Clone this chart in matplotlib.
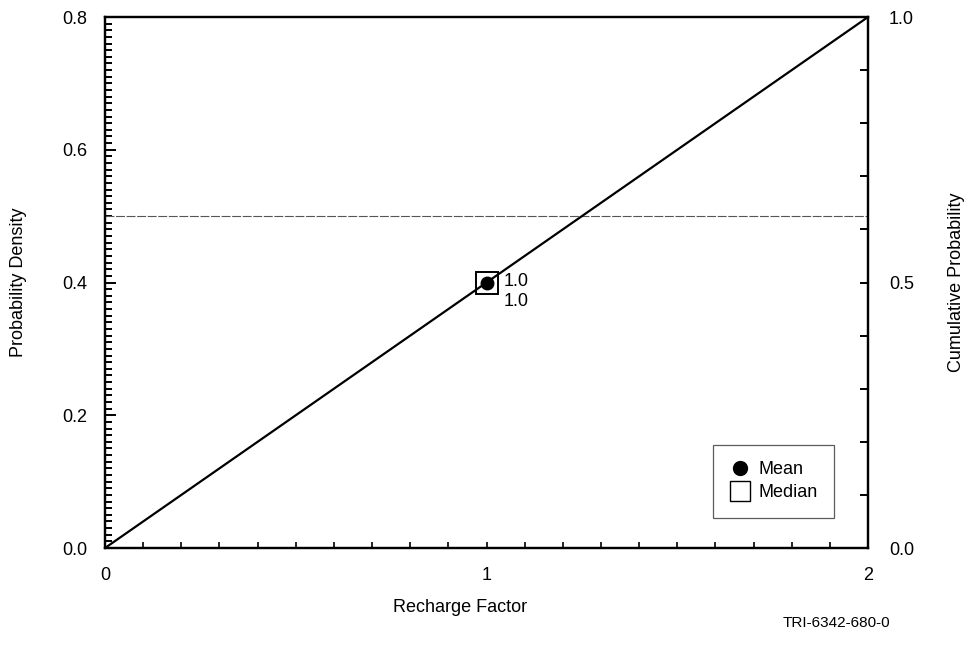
import numpy as np
import matplotlib
matplotlib.use('Agg')
import matplotlib.pyplot as plt
from matplotlib.lines import Line2D
from matplotlib.ticker import MultipleLocator

plt.rcParams['font.family'] = ['Liberation Sans', 'DejaVu Sans']

# Data (uniform distribution on 0..2)
recharge = [0.0, 0.25, 0.5, 0.75, 1.0, 1.25, 1.5, 1.75, 2.0]
cumulative = [0.0, 0.125, 0.25, 0.375, 0.5, 0.625, 0.75, 0.875, 1.0]
density_x = [0.0, 2.0]
density_y = [0.5, 0.5]
mean_val = 1.0
median_val = 1.0
mean_cum = 0.5

fig = plt.figure(figsize=(9.68, 6.57), dpi=100)
ax = fig.add_axes([0.1085, 0.1659, 0.7882, 0.8082])
ax2 = ax.twinx()

# Probability density (left axis)
ax.plot(density_x, density_y, color='#555555', lw=0.8, linestyle=(0, (8, 1.5)))
ax.set_xlim(0, 2)
ax.set_ylim(0, 0.8)
ax.set_xticks([0, 1, 2])
ax.set_xticklabels(['0', '1', '2'], fontsize=13)
ax.xaxis.set_minor_locator(MultipleLocator(0.1))
ax.set_yticks([0.0, 0.2, 0.4, 0.6, 0.8])
ax.set_yticklabels(['0.0', '0.2', '0.4', '0.6', '0.8'], fontsize=13)
ax.yaxis.set_minor_locator(MultipleLocator(0.01))
ax.tick_params(axis='x', which='both', direction='in', top=False, pad=14, length=4, width=1.2)
ax.tick_params(axis='y', which='major', direction='in', left=True, right=False, pad=13, length=8, width=1.4)
ax.tick_params(axis='y', which='minor', direction='in', left=True, right=False, length=5, width=1.4)

# Cumulative probability (right axis)
ax2.plot(recharge, cumulative, color='black', lw=1.6)
ax2.plot([mean_val], [mean_cum], marker='o', color='black', markersize=9, linestyle='none')
ax2.plot([median_val], [mean_cum], marker='s', markerfacecolor='none', markeredgecolor='black',
         markersize=16, markeredgewidth=1.4, linestyle='none')
ax2.text(mean_val + 0.045, mean_cum + 0.001, f'{mean_val:.1f}', fontsize=13, va='center', ha='left')
ax2.text(mean_val + 0.045, mean_cum - 0.035, f'{median_val:.1f}', fontsize=13, va='center', ha='left')
ax2.set_ylim(0, 1.0)
ax2.set_yticks([0.0, 0.5, 1.0])
ax2.set_yticklabels(['0.0', '0.5', '1.0'], fontsize=13)
ax2.yaxis.set_minor_locator(MultipleLocator(0.1))
ax2.tick_params(axis='y', which='both', direction='in', pad=15, length=6, width=1.4)

for a in (ax, ax2):
    for s in a.spines.values():
        s.set_linewidth(1.6)

handles = [
    Line2D([], [], marker='o', color='black', linestyle='none', markersize=10),
    Line2D([], [], marker='s', markerfacecolor='none', markeredgecolor='black',
           linestyle='none', markersize=14, markeredgewidth=1.0),
]
leg = ax2.legend(handles, ['Mean', 'Median'], loc='lower right', bbox_to_anchor=(0.955, 0.057),
                 fontsize=13, frameon=True, fancybox=False, handletextpad=0.4,
                 borderpad=0.9, labelspacing=0.35, handlelength=1.2, borderaxespad=0)
leg.get_frame().set_edgecolor('#333333')
leg.get_frame().set_linewidth(0.9)

fig.text(0.475, 0.075, 'Recharge Factor', fontsize=13, ha='center', va='center')
fig.text(0.019, 0.57, 'Probability Density', fontsize=13, rotation=90, ha='center', va='center')
fig.text(0.988, 0.57, 'Cumulative Probability', fontsize=13, rotation=90, ha='center', va='center')
fig.text(0.92, 0.052, 'TRI-6342-680-0', fontsize=11, ha='right', va='center')

fig.savefig('out.png', dpi=100)
